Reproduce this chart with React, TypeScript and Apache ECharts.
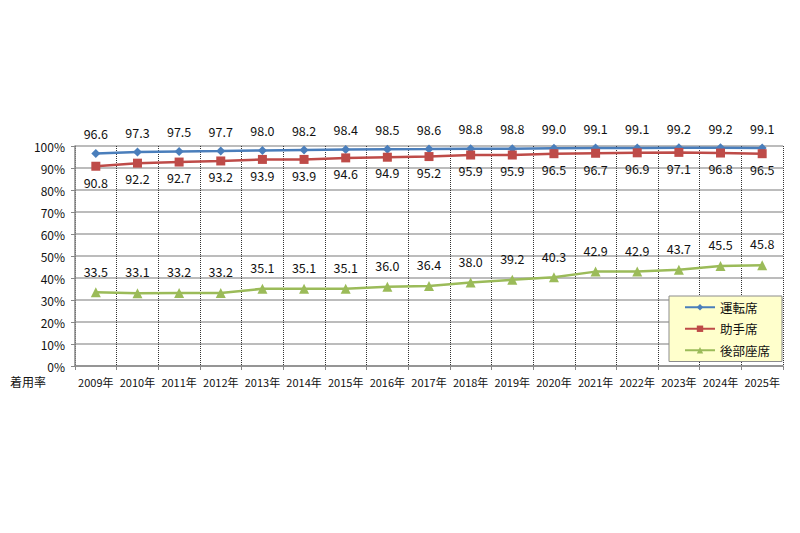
import React, { useRef, useEffect } from 'react';
import * as echarts from 'echarts';

const years = [
  '2009年', '2010年', '2011年', '2012年', '2013年', '2014年', '2015年', '2016年', '2017年',
  '2018年', '2019年', '2020年', '2021年', '2022年', '2023年', '2024年', '2025年',
];
const driverSeat = [96.6, 97.3, 97.5, 97.7, 98.0, 98.2, 98.4, 98.5, 98.6, 98.8, 98.8, 99.0, 99.1, 99.1, 99.2, 99.2, 99.1];
const passengerSeat = [90.8, 92.2, 92.7, 93.2, 93.9, 93.9, 94.6, 94.9, 95.2, 95.9, 95.9, 96.5, 96.7, 96.9, 97.1, 96.8, 96.5];
const rearSeat = [33.5, 33.1, 33.2, 33.2, 35.1, 35.1, 35.1, 36.0, 36.4, 38.0, 39.2, 40.3, 42.9, 42.9, 43.7, 45.5, 45.8];
const yTicks = { min: 0, max: 100, interval: 10 };

const FONT = '"Noto Sans CJK JP", "Noto Sans", sans-serif';

const labelFmt = (p: any) => Number(p.value).toFixed(1);

export default function App() {
  const chartRef = useRef<HTMLDivElement>(null);

  useEffect(() => {
    document.body.style.margin = '0';
    if (!chartRef.current) return;
    const chart = echarts.init(chartRef.current, null, { renderer: 'svg' });

    const baseLabel = {
      show: true,
      formatter: labelFmt,
      fontFamily: FONT,
      fontSize: 12.5,
      color: '#111',
    };

    chart.setOption({
      animation: false,
      backgroundColor: '#fff',
      textStyle: { fontFamily: FONT },
      grid: { left: 75, top: 146, width: 708, height: 220 },
      legend: {
        orient: 'vertical',
        left: 669,
        top: 296,
        backgroundColor: '#FFFFCC',
        borderColor: '#8c8c8c',
        borderWidth: 1,
        padding: [5, 12, 5, 15],
        itemWidth: 30,
        itemHeight: 8,
        itemGap: 9,
        textStyle: { fontFamily: FONT, fontSize: 12.5, color: '#111' },
        data: ['運転席', '助手席', '後部座席'],
      },
      graphic: [
        {
          type: 'text',
          left: 10,
          top: 375,
          style: { text: '着用率', font: `12px ${FONT}`, fill: '#111' },
        },
      ],
      xAxis: {
        type: 'category',
        data: years,
        boundaryGap: true,
        axisLine: { show: true, lineStyle: { color: '#888', width: 1.5 } },
        axisTick: { show: true, length: 4, lineStyle: { color: '#888' } },
        axisLabel: { fontFamily: FONT, fontSize: 11, color: '#111', margin: 10, interval: 0 },
        splitLine: { show: true, lineStyle: { type: 'dotted', color: '#333', width: 1 } },
      },
      yAxis: {
        type: 'value',
        min: yTicks.min,
        max: yTicks.max,
        interval: yTicks.interval,
        axisLine: { show: true, lineStyle: { color: '#888', width: 1.5 } },
        axisTick: { show: true, length: 4, lineStyle: { color: '#888' } },
        axisLabel: { formatter: '{value}%', fontFamily: FONT, fontSize: 12, color: '#111', margin: 10 },
        splitLine: { show: true, lineStyle: { color: '#a6a6a6', width: 1.5 } },
      },
      series: [
        {
          name: '運転席',
          type: 'line',
          data: driverSeat,
          symbol: 'diamond',
          symbolSize: 9,
          itemStyle: { color: '#4A7EBB' },
          lineStyle: { color: '#4A7EBB', width: 2.5 },
          label: { ...baseLabel, position: 'top', distance: 9 },
        },
        {
          name: '助手席',
          type: 'line',
          data: passengerSeat,
          symbol: 'rect',
          symbolSize: 9,
          itemStyle: { color: '#BE4B48' },
          lineStyle: { color: '#BE4B48', width: 2.5 },
          label: { ...baseLabel, position: 'bottom', distance: 5 },
        },
        {
          name: '後部座席',
          type: 'line',
          data: rearSeat,
          symbol: 'triangle',
          symbolSize: 10,
          itemStyle: { color: '#9BBB59' },
          lineStyle: { color: '#9BBB59', width: 2.5 },
          label: { ...baseLabel, position: 'top', distance: 10 },
        },
      ],
    });

    return () => {
      chart.dispose();
    };
  }, []);

  return <div ref={chartRef} style={{ width: 800, height: 533 }} />;
}
